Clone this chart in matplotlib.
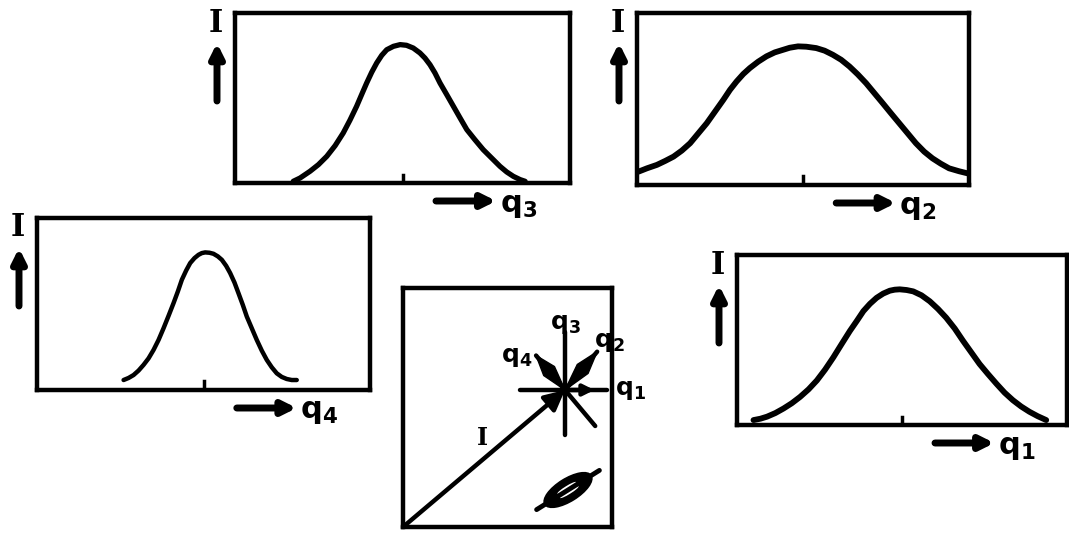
import matplotlib
matplotlib.use("Agg")
import matplotlib.pyplot as plt
from matplotlib.patches import Ellipse, FancyArrowPatch, Polygon
import numpy as np

W, H = 1069, 534

# intensity profiles along q1..q4, position and I as fractions of each box
q3_x = [0.174, 0.194, 0.224, 0.249, 0.274, 0.299, 0.323, 0.343, 0.363, 0.378,
        0.393, 0.408, 0.423, 0.438, 0.453, 0.473, 0.493, 0.512, 0.532, 0.552,
        0.567, 0.582, 0.597, 0.612, 0.632, 0.652, 0.672, 0.692, 0.716, 0.741,
        0.766, 0.791, 0.811, 0.831, 0.851, 0.866]
q3_I = [0.010, 0.029, 0.069, 0.108, 0.157, 0.220, 0.294, 0.369, 0.451, 0.520,
        0.588, 0.651, 0.706, 0.751, 0.784, 0.804, 0.814, 0.810, 0.794, 0.765,
        0.735, 0.696, 0.647, 0.588, 0.520, 0.451, 0.382, 0.314, 0.255, 0.196,
        0.147, 0.098, 0.065, 0.039, 0.020, 0.010]

q2_x = [0.005, 0.03, 0.06, 0.085, 0.11, 0.135, 0.16, 0.185, 0.21, 0.235,
        0.26, 0.28, 0.30, 0.32, 0.34, 0.365, 0.39, 0.415, 0.44, 0.46,
        0.485, 0.51, 0.54, 0.565, 0.59, 0.615, 0.64, 0.665, 0.69, 0.715,
        0.74, 0.765, 0.79, 0.815, 0.84, 0.865, 0.89, 0.915, 0.94, 0.97, 0.995]
q2_I = [0.078, 0.097, 0.117, 0.140, 0.165, 0.200, 0.243, 0.301, 0.359, 0.427,
        0.495, 0.553, 0.602, 0.645, 0.680, 0.717, 0.748, 0.771, 0.786, 0.798,
        0.806, 0.804, 0.796, 0.781, 0.757, 0.728, 0.689, 0.643, 0.592, 0.534,
        0.476, 0.417, 0.359, 0.301, 0.243, 0.194, 0.155, 0.124, 0.097, 0.080, 0.068]

q4_x = [0.26, 0.275, 0.29, 0.305, 0.32, 0.335, 0.35, 0.365, 0.38, 0.395,
        0.41, 0.423, 0.435, 0.448, 0.46, 0.473, 0.485, 0.495, 0.505, 0.518,
        0.53, 0.543, 0.555, 0.568, 0.58, 0.593, 0.605, 0.618, 0.63, 0.645,
        0.66, 0.675, 0.69, 0.705, 0.72, 0.735, 0.75, 0.765, 0.78]
q4_I = [0.058, 0.070, 0.087, 0.113, 0.146, 0.184, 0.233, 0.291, 0.359, 0.431,
        0.505, 0.573, 0.641, 0.695, 0.738, 0.767, 0.786, 0.796, 0.800, 0.798,
        0.792, 0.777, 0.757, 0.722, 0.680, 0.625, 0.563, 0.495, 0.427, 0.359,
        0.291, 0.229, 0.175, 0.132, 0.097, 0.076, 0.064, 0.058, 0.058]

q1_x = [0.050, 0.071, 0.091, 0.116, 0.141, 0.166, 0.191, 0.217, 0.242, 0.267,
        0.292, 0.317, 0.342, 0.363, 0.383, 0.403, 0.423, 0.443, 0.463, 0.478,
        0.493, 0.514, 0.534, 0.559, 0.584, 0.609, 0.634, 0.660, 0.685, 0.710,
        0.735, 0.760, 0.786, 0.811, 0.836, 0.861, 0.886, 0.911, 0.937]
q1_I = [0.029, 0.037, 0.049, 0.070, 0.097, 0.128, 0.165, 0.210, 0.262, 0.326,
        0.398, 0.476, 0.553, 0.612, 0.670, 0.713, 0.748, 0.773, 0.790, 0.796,
        0.798, 0.794, 0.786, 0.763, 0.728, 0.683, 0.631, 0.567, 0.495, 0.427,
        0.359, 0.301, 0.243, 0.190, 0.146, 0.109, 0.078, 0.052, 0.029]

# directions of q1..q4 in the sketch (degrees) and ray lengths (px)
q_names = ["1", "2", "3", "4"]
q_angles = [0, 50, 90, 130]
q_len_pos = [42, 50, 58, 45]
q_len_neg = [45, 0, 45, 47]

fig = plt.figure(figsize=(W / 100, H / 100), dpi=100)
fig.patch.set_facecolor("white")


def px(l, t, w, h):
    return [l / W, 1 - (t + h) / H, w / W, h / H]


# full-figure layer in pixel units for the labels and arrows
ov = fig.add_axes([0, 0, 1, 1])
ov.set_xlim(0, W)
ov.set_ylim(H, 0)
ov.axis("off")
ov.patch.set_alpha(0)
ov.set_zorder(10)


def arrow(ax, x0, y0, x1, y1, lw=4, ms=20, style="-|>"):
    a = FancyArrowPatch((x0, y0), (x1, y1), arrowstyle=style, lw=lw, color="k",
                        mutation_scale=ms, shrinkA=0, shrinkB=0, clip_on=False)
    ax.add_patch(a)


def qlabel(ax, x, y, n, size=22):
    ax.text(x, y, r"$\mathbf{q}_{\mathbf{%s}}$" % n, fontsize=size, ha="left",
            va="center", clip_on=False)


def panel(rect, x, I, n, lw=3.8):
    l, t, w, h = rect
    ax = fig.add_axes(px(l, t, w, h))
    ax.plot(x, I, color="k", lw=lw, solid_capstyle="round", solid_joinstyle="round")
    ax.plot([0.5, 0.5], [0, 0.05], color="k", lw=2.5)
    ax.set_xlim(0, 1)
    ax.set_ylim(0, 1)
    ax.set_xticks([])
    ax.set_yticks([])
    for s in ax.spines.values():
        s.set_linewidth(3.2)
    # axis labels: I with upward arrow on the left, -> q below right
    ov.text(l - 19, t + 10, "I", fontsize=22, fontweight="bold",
            family="DejaVu Serif", ha="center", va="center")
    arrow(ov, l - 18, t + 88, l - 18, t + 30, lw=5, ms=20)
    ay = t + h + 18
    arrow(ov, l + 0.6 * w, ay, l + 0.78 * w, ay, lw=5, ms=20)
    qlabel(ov, l + 0.79 * w, ay + 4, n)
    return ax


panel((235, 13, 335, 170), q3_x, q3_I, "3")
panel((637, 13, 332, 172), q2_x, q2_I, "2", lw=4.2)
panel((37, 218, 333, 172), q4_x, q4_I, "4", lw=3.2)
panel((737, 255, 330, 170), q1_x, q1_I, "1", lw=4.2)

# centre sketch: vector I ending on the star of q directions
cx = fig.add_axes(px(403, 288, 209, 239))
cx.set_xlim(0, 209)
cx.set_ylim(0, 239)
cx.set_xticks([])
cx.set_yticks([])
for s in cx.spines.values():
    s.set_linewidth(3.2)

sx, sy = 162, 137
arrow(cx, 0, 0, sx, sy, lw=3.2, ms=30)
cx.text(79, 89, "I", fontsize=17, fontweight="bold", family="DejaVu Serif",
        ha="center", va="center")

label_off = {"1": (66, 0), "2": (44, 48), "3": (0, 66), "4": (-48, 33)}
for n, ang, lp, ln in zip(q_names, q_angles, q_len_pos, q_len_neg):
    d = np.array([np.cos(np.radians(ang)), np.sin(np.radians(ang))])
    nrm = np.array([-d[1], d[0]])
    c = np.array([sx, sy])
    p0 = c - ln * d
    p1 = c + lp * d
    cx.plot([p0[0], p1[0]], [p0[1], p1[1]], color="k", lw=3.2,
            solid_capstyle="round")
    if n in ("2", "4"):
        # heavy lozenge-shaped ray
        m = c + 0.55 * lp * d
        cx.add_patch(Polygon([c, m + 7 * nrm, p1, m - 7 * nrm], closed=True,
                             facecolor="k", edgecolor="k", lw=1))
    elif n == "1":
        arrow(cx, sx, sy, c[0] + 0.7 * lp, sy, lw=3.2, ms=16)
    ox, oy = label_off[n]
    cx.text(sx + ox, sy + oy, r"$\mathbf{q}_{\mathbf{%s}}$" % n, fontsize=18,
            ha="center", va="center", clip_on=False)

# small particle in the lower right
ang = 32
cx.add_patch(Ellipse((165, 37), 54, 22, angle=ang, facecolor="k", edgecolor="k", lw=1.5))
for off in (-2.5, 2.5):
    cx.add_patch(Ellipse((165 - off * 0.53, 37 + off * 0.85), 22, 3.5, angle=ang,
                         facecolor="white", edgecolor="none"))
tip = 37 * np.array([np.cos(np.radians(ang)), np.sin(np.radians(ang))])
cx.plot([165 - tip[0], 165 + tip[0]], [37 - tip[1], 37 + tip[1]], color="k", lw=3.5,
        solid_capstyle="round")

fig.savefig("out.png", dpi=100)
